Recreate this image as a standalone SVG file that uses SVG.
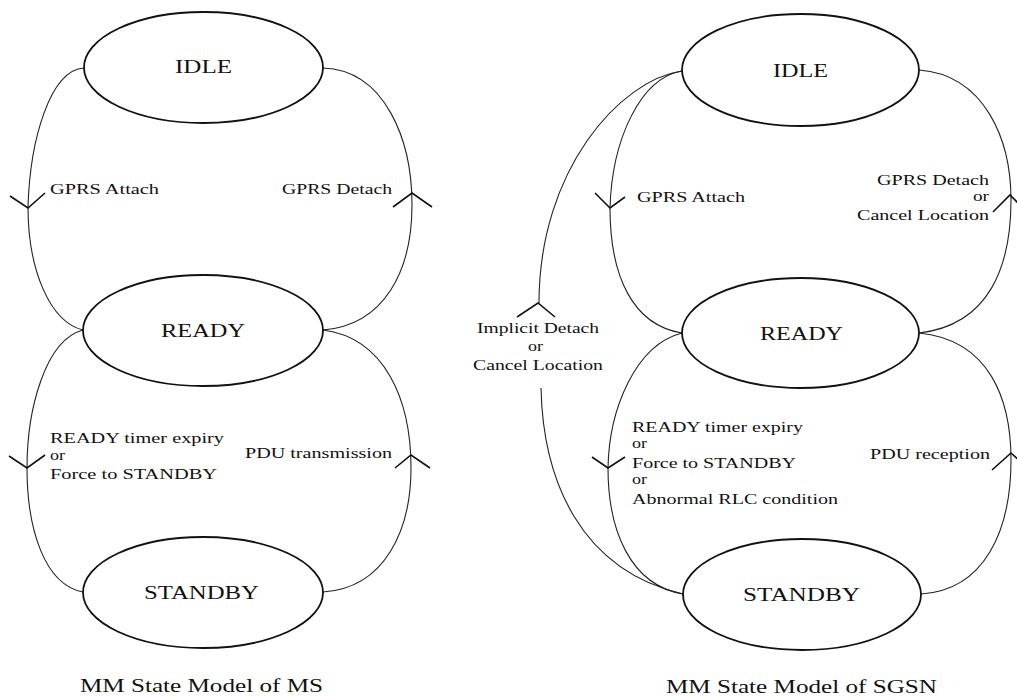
<svg xmlns="http://www.w3.org/2000/svg" width="1017" height="697" viewBox="0 0 1017 697">
  <style>
    .state { fill: #fff; stroke: #111; stroke-width: 1.8; }
    .edge { fill: none; stroke: #222; stroke-width: 1.1; }
    .head { fill: none; stroke: #111; stroke-width: 1.6; stroke-linejoin: miter; }
    .name { font-family: "Liberation Serif", "Times New Roman", serif; font-size: 19px; fill: #111; }
    .lbl { font-family: "Liberation Serif", "Times New Roman", serif; font-size: 15px; fill: #111; }
    .title { font-family: "Liberation Serif", "Times New Roman", serif; font-size: 19px; fill: #111; }
  </style>
  <rect width="1017" height="697" fill="#fff"/>

  <!-- transitions -->
  <g id="connectors">
    <!-- MS model -->
    <path class="edge" d="M84,68 C50,70 30,140 28,207 C28,270 50,322 83,330"/>
    <path class="edge" d="M323,68 C385,70 412,140 412,205 C412,270 385,325 323,330"/>
    <path class="edge" d="M83,330 C45,340 27,410 27,468 C27,530 45,585 83,592"/>
    <path class="edge" d="M323,592 C385,588 411,530 411,468 C411,400 385,338 323,330"/>
    <polyline class="head" points="10,196 28,208 45,193"/>
    <polyline class="head" points="393,207 412,193 432,207"/>
    <polyline class="head" points="9,456 27,468 45,455"/>
    <polyline class="head" points="395,468 411,455 430,468"/>

    <!-- SGSN model -->
    <path class="edge" d="M682,71 C640,78 612,140 610,208 C610,275 632,325 682,333"/>
    <path class="edge" d="M682,71 C620,80 539,170 539,303"/>
    <path class="edge" d="M541,388 C543,480 580,570 683,594"/>
    <path class="edge" d="M919,70 C985,75 1011,140 1011,200 C1011,265 990,325 919,333"/>
    <path class="edge" d="M682,333 C635,345 609,410 608,468 C608,530 630,585 683,594"/>
    <path class="edge" d="M921,594 C985,590 1011,530 1011,460 C1011,400 990,340 919,333"/>
    <polyline class="head" points="595,193 610,208 625,197"/>
    <polyline class="head" points="993,212 1010,195 1027,212"/>
    <polyline class="head" points="517,317 538,303 555,317"/>
    <polyline class="head" points="592,457 608,468 625,457"/>
    <polyline class="head" points="992,470 1011,453 1030,470"/>
  </g>

  <!-- MS states -->
  <g id="ms-idle">
    <ellipse class="state" cx="203.5" cy="67.5" rx="119.5" ry="55.5"/>
    <text class="name" x="175" y="73" textLength="57" lengthAdjust="spacingAndGlyphs">IDLE</text>
  </g>
  <g id="ms-ready">
    <ellipse class="state" cx="203" cy="330.5" rx="120" ry="55.5"/>
    <text class="name" x="161" y="337" textLength="84" lengthAdjust="spacingAndGlyphs">READY</text>
  </g>
  <g id="ms-standby">
    <ellipse class="state" cx="203" cy="592.5" rx="120" ry="55.5"/>
    <text class="name" x="144" y="599" textLength="115" lengthAdjust="spacingAndGlyphs">STANDBY</text>
  </g>

  <!-- MS transition labels -->
  <g id="ms-labels">
    <text class="lbl" x="50" y="194" textLength="109" lengthAdjust="spacingAndGlyphs">GPRS Attach</text>
    <text class="lbl" x="282" y="194" textLength="110" lengthAdjust="spacingAndGlyphs">GPRS Detach</text>
    <text class="lbl" x="50" y="443" textLength="174" lengthAdjust="spacingAndGlyphs">READY timer expiry</text>
    <text class="lbl" x="50" y="460" textLength="15" lengthAdjust="spacingAndGlyphs">or</text>
    <text class="lbl" x="50" y="479" textLength="167" lengthAdjust="spacingAndGlyphs">Force to STANDBY</text>
    <text class="lbl" x="245" y="458" textLength="147" lengthAdjust="spacingAndGlyphs">PDU transmission</text>
  </g>

  <!-- SGSN states -->
  <g id="sgsn-idle">
    <ellipse class="state" cx="800.5" cy="70" rx="118.5" ry="56"/>
    <text class="name" x="773" y="77" textLength="55" lengthAdjust="spacingAndGlyphs">IDLE</text>
  </g>
  <g id="sgsn-ready">
    <ellipse class="state" cx="800.5" cy="333" rx="118.5" ry="55"/>
    <text class="name" x="760" y="340" textLength="83" lengthAdjust="spacingAndGlyphs">READY</text>
  </g>
  <g id="sgsn-standby">
    <ellipse class="state" cx="802" cy="594.5" rx="119" ry="55.5"/>
    <text class="name" x="743" y="601" textLength="117" lengthAdjust="spacingAndGlyphs">STANDBY</text>
  </g>

  <!-- SGSN transition labels -->
  <g id="sgsn-labels">
    <text class="lbl" x="637" y="202" textLength="108" lengthAdjust="spacingAndGlyphs">GPRS Attach</text>
    <text class="lbl" x="877" y="185" textLength="112" lengthAdjust="spacingAndGlyphs">GPRS Detach</text>
    <text class="lbl" x="973" y="201" textLength="16" lengthAdjust="spacingAndGlyphs">or</text>
    <text class="lbl" x="857" y="220" textLength="132" lengthAdjust="spacingAndGlyphs">Cancel Location</text>
    <text class="lbl" x="477" y="333" textLength="122" lengthAdjust="spacingAndGlyphs">Implicit Detach</text>
    <text class="lbl" x="528" y="351" textLength="15" lengthAdjust="spacingAndGlyphs">or</text>
    <text class="lbl" x="473" y="370" textLength="130" lengthAdjust="spacingAndGlyphs">Cancel Location</text>
    <text class="lbl" x="632" y="432" textLength="171" lengthAdjust="spacingAndGlyphs">READY timer expiry</text>
    <text class="lbl" x="632" y="448" textLength="15" lengthAdjust="spacingAndGlyphs">or</text>
    <text class="lbl" x="632" y="468" textLength="164" lengthAdjust="spacingAndGlyphs">Force to STANDBY</text>
    <text class="lbl" x="632" y="484" textLength="15" lengthAdjust="spacingAndGlyphs">or</text>
    <text class="lbl" x="632" y="504" textLength="206" lengthAdjust="spacingAndGlyphs">Abnormal RLC condition</text>
    <text class="lbl" x="870" y="459" textLength="120" lengthAdjust="spacingAndGlyphs">PDU reception</text>
  </g>

  <!-- captions -->
  <g id="captions">
    <text class="title" x="80" y="692" textLength="243" lengthAdjust="spacingAndGlyphs">MM State Model of MS</text>
    <text class="title" x="666" y="693" textLength="271" lengthAdjust="spacingAndGlyphs">MM State Model of SGSN</text>
  </g>
</svg>
